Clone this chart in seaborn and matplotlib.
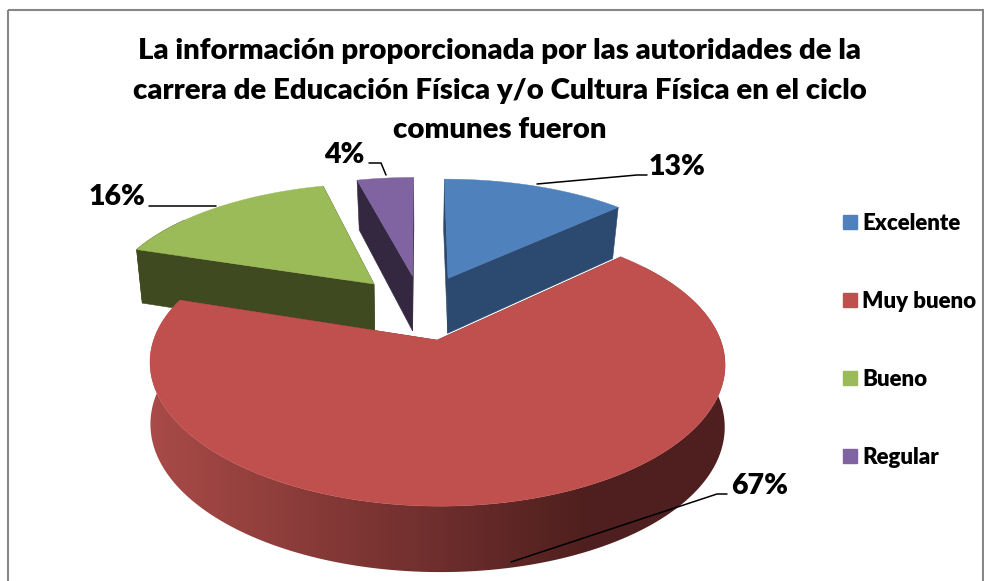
import numpy as np
import matplotlib
matplotlib.use("Agg")
import matplotlib.pyplot as plt
from matplotlib.patches import Patch, Rectangle, Polygon
from matplotlib.colors import LinearSegmentedColormap
import seaborn as sns

title_lines = ["La información proporcionada por las autoridades de la",
               "carrera de Educación Física y/o Cultura Física en el ciclo",
               "comunes fueron"]
categories = ["Excelente", "Muy bueno", "Bueno", "Regular"]
values = [13, 67, 16, 4]
top_colors = ["#4f81bd", "#c0504d", "#9bbb59", "#8064a2"]
side_colors = ["#2c4a70", "#6f3331", "#3f4a21", "#33283f"]

sns.set_theme(style="white")
plt.rcParams['font.family'] = ['Lato', 'DejaVu Sans']

W, H = 984, 581
fig = plt.figure(figsize=(W / 100, H / 100), dpi=100)
ax = fig.add_axes([0, 0, 1, 1])
palette = sns.color_palette(top_colors)

# projection of the pie plane
CX, CY, AX_, BY, KX, KY, EXPL = 421.0, 307.0, 272.0, 125.0, 0.16, 0.17, 0.26


def project(X, U, bottom=False):
    X, U = np.asarray(X, float), np.asarray(U, float)
    x = AX_ * X / (1 + KX * U)
    dy = 1 + KY * U
    y = -BY * U / dy
    if bottom:
        return CX + (0.99 - 0.02 * U) * x, CY + y + 55 * (1.04 / dy) ** 0.65
    return CX + x, CY + y


total = sum(values)
angles = np.cumsum([0] + values) / total * 2 * np.pi
wall_cmap = LinearSegmentedColormap.from_list("wall", ["#a84a47", "#4e1f1e"])


def draw_slice(i, z):
    a0, a1 = angles[i], angles[i + 1]
    mid = (a0 + a1) / 2
    ox, ou = EXPL * np.sin(mid), EXPL * np.cos(mid)
    th = np.linspace(a0, a1, 240)
    rimX, rimU = ox + np.sin(th), ou + np.cos(th)
    # cut faces
    for a in (a0, a1):
        eX, eU = ox + np.sin(a), ou + np.cos(a)
        pts = [project(ox, ou), project(eX, eU), project(eX, eU, True), project(ox, ou, True)]
        ax.fill(*zip(*pts), color=side_colors[i], lw=0.4, zorder=z)
    # outer wall
    xt, yt = project(rimX, rimU)
    xb, yb = project(rimX, rimU, True)
    keep = np.cos(th) < 0.6
    if keep.any():
        wall = np.c_[np.r_[xt[keep], xb[keep][::-1]], np.r_[yt[keep], yb[keep][::-1]]]
        if i == 1:
            xs = np.arange(130, 760)
            ramp = np.clip((xs - 155) / (590 - 155), 0, 1)[None, :]
            img = ax.imshow(ramp, cmap=wall_cmap, vmin=0, vmax=1, extent=(130, 760, H, 0),
                            aspect="auto", zorder=z)
            img.set_clip_path(Polygon(wall, transform=ax.transData))
        else:
            ax.fill(wall[:, 0], wall[:, 1], color=side_colors[i], lw=0.4, zorder=z)
    # top face
    ax_, ay_ = project(ox, ou)
    ax.fill(np.r_[ax_, xt], np.r_[ay_, yt], color=palette[i], lw=0.3, zorder=z + 0.5)


for z, i in enumerate([3, 2, 0, 1]):
    draw_slice(i, z + 2)

ax.set_xlim(0, W)
ax.set_ylim(H, 0)
ax.axis("off")

# chart frame
ax.add_patch(Rectangle((8, 10), 975, 600, fill=False, ec="#868686", lw=1.5, zorder=1))

# title
for line, y in zip(title_lines, [51, 91, 130]):
    ax.text(500, y, line, ha="center", va="center", fontsize=21.2, fontweight="heavy",
            color="#000000", zorder=10)

# data labels and leader lines
label_x = [677, 760, 117, 344]
label_y = [167, 486, 197, 155]
leaders = [([537, 637, 647], [184, 175, 175]),
           ([511, 717, 727], [562, 494, 494]),
           ([216, 149], [206, 206]),
           ([386, 381, 369], [175, 163, 163])]
for v, lx, ly, (px, py) in zip(values, label_x, label_y, leaders):
    ax.plot(px, py, color="black", lw=1.1, zorder=9)
    ax.text(lx, ly, f"{v}%", ha="center", va="center", fontsize=20.5, fontweight="heavy",
            color="#000000", zorder=10)

# legend
handles = [Patch(color=c, label=n) for c, n in zip(palette, categories)]
leg = ax.legend(handles=handles, loc="upper left", bbox_to_anchor=(836 / W, 1 - 206 / H),
                frameon=False, handlelength=0.63, handleheight=0.63, handletextpad=0.25,
                labelspacing=2.57, borderpad=0.3, borderaxespad=0,
                prop={"family": "Lato", "weight": "heavy", "size": 16})
for t in leg.get_texts():
    t.set_color("#000000")

fig.savefig("out.png", dpi=100)
